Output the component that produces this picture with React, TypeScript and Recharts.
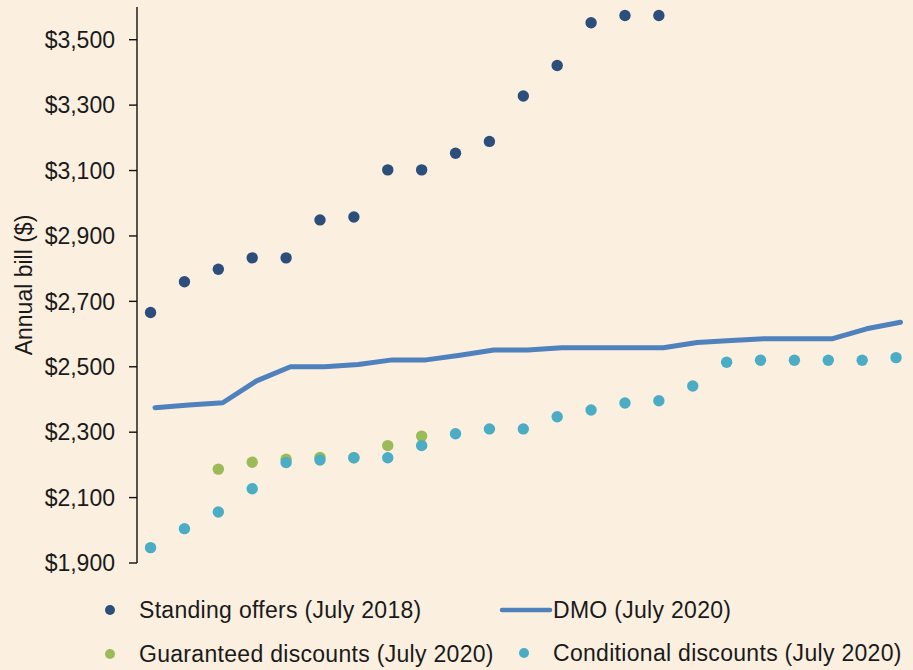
import React from "react";
import { ComposedChart, Line, XAxis, YAxis } from "recharts";

const offerRank = [1, 2, 3, 4, 5, 6, 7, 8, 9, 10, 11, 12, 13, 14, 15, 16, 17, 18, 19, 20, 21, 22, 23];
const standingOffers2018 = [2666, 2760, 2798, 2833, 2833, 2949, 2958, 3102, 3102, 3153, 3189, 3328, 3421, 3552, 3574, 3574, null, null, null, null, null, null, null];
const dmo2020 = [2375, 2383, 2390, 2457, 2500, 2500, 2507, 2521, 2521, 2535, 2551, 2551, 2558, 2558, 2558, 2558, 2574, 2580, 2586, 2586, 2586, 2616, 2636];
const guaranteed2020 = [null, null, 2187, 2208, 2217, 2223, 2222, 2259, 2288, null, null, null, null, null, null, null, null, null, null, null, null, null, null];
const conditional2020 = [1947, 2005, 2056, 2127, 2207, 2215, 2222, 2222, 2259, 2295, 2310, 2310, 2347, 2368, 2389, 2396, 2441, 2514, 2520, 2520, 2520, 2520, 2528];
const yTicks = [1900, 2100, 2300, 2500, 2700, 2900, 3100, 3300, 3500];

const seriesNames = {
  standing: "Standing offers (July 2018)",
  dmo: "DMO (July 2020)",
  guaranteed: "Guaranteed discounts (July 2020)",
  conditional: "Conditional discounts (July 2020)",
};

const COLORS = {
  standing: "#2B4E7B",
  dmo: "#4F81BD",
  guaranteed: "#9BBB59",
  conditional: "#4BACC6",
};

const BG = "#FBEFE0";
const FONT = "'Liberation Sans', Arial, Helvetica, sans-serif";

const data = offerRank.map((x, i) => ({
  x,
  standing: standingOffers2018[i],
  dmo: dmo2020[i],
  guaranteed: guaranteed2020[i],
  conditional: conditional2020[i],
}));

const fmt = (v: number) => "$" + v.toLocaleString("en-US");

const AxisLabel = (props: any) => {
  const vb = props.viewBox || {};
  const cy = (vb.y ?? 7) + (vb.height ?? 556) / 2;
  const x = 32;
  return (
    <text
      x={x}
      y={cy}
      transform={`rotate(-90, ${x}, ${cy})`}
      textAnchor="middle"
      fontSize={23}
      fontFamily={FONT}
      fill="#1a1a1a"
    >
      Annual bill ($)
    </text>
  );
};

const legendText: React.CSSProperties = {
  position: "absolute",
  fontSize: 23,
  fontFamily: FONT,
  color: "#1a1a1a",
  letterSpacing: 0.3,
  lineHeight: "26px",
  whiteSpace: "nowrap",
};

const DotMark = ({ color, left, top }: { color: string; left: number; top: number }) => (
  <svg style={{ position: "absolute", left: left - 6, top: top - 6 }} width={12} height={12}>
    <circle cx={6} cy={6} r={5} fill={color} />
  </svg>
);

export default function App() {
  return (
    <div style={{ position: "absolute", left: 0, top: 0, width: 913, height: 670, background: BG, overflow: "hidden" }}>
      <ComposedChart
        width={913}
        height={670}
        data={data}
        margin={{ top: 7, right: 0, bottom: 107, left: 0 }}
      >
        <XAxis dataKey="x" type="number" domain={[0.6, 23.5]} hide />
        <XAxis xAxisId="dmo" dataKey="x" type="number" domain={[0.47, 23.37]} hide />
        <YAxis
          width={137}
          domain={[1900, 3600]}
          ticks={yTicks}
          allowDataOverflow
          tickFormatter={fmt}
          tickSize={8}
          tickMargin={14}
          axisLine={{ stroke: "#111", strokeWidth: 1.4 }}
          tickLine={{ stroke: "#111", strokeWidth: 1.4 }}
          tick={{ fontSize: 23, fontFamily: FONT, fill: "#1a1a1a" }}
          label={<AxisLabel />}
        />
        <Line
          dataKey="standing"
          name={seriesNames.standing}
          stroke="none"
          isAnimationActive={false}
          dot={{ r: 5.7, fill: COLORS.standing, stroke: "none", strokeWidth: 0 }}
          activeDot={false}
        />
        <Line
          xAxisId="dmo"
          dataKey="dmo"
          name={seriesNames.dmo}
          type="linear"
          stroke={COLORS.dmo}
          strokeWidth={5}
          strokeLinecap="round"
          strokeLinejoin="round"
          isAnimationActive={false}
          dot={false}
          activeDot={false}
        />
        <Line
          dataKey="guaranteed"
          name={seriesNames.guaranteed}
          stroke="none"
          isAnimationActive={false}
          dot={{ r: 5.7, fill: COLORS.guaranteed, stroke: "none", strokeWidth: 0 }}
          activeDot={false}
        />
        <Line
          dataKey="conditional"
          name={seriesNames.conditional}
          stroke="none"
          isAnimationActive={false}
          dot={{ r: 5.7, fill: COLORS.conditional, stroke: "none", strokeWidth: 0 }}
          activeDot={false}
        />
      </ComposedChart>

      <DotMark color={COLORS.standing} left={110} top={610} />
      <div style={{ ...legendText, left: 139, top: 597 }}>{seriesNames.standing}</div>
      <svg style={{ position: "absolute", left: 498, top: 605 }} width={56} height={10}>
        <line x1={4} y1={5} x2={52} y2={5} stroke={COLORS.dmo} strokeWidth={4.5} strokeLinecap="round" />
      </svg>
      <div style={{ ...legendText, left: 553, top: 597 }}>{seriesNames.dmo}</div>

      <DotMark color={COLORS.guaranteed} left={110} top={654} />
      <div style={{ ...legendText, left: 139, top: 641 }}>{seriesNames.guaranteed}</div>
      <DotMark color={COLORS.conditional} left={524} top={653} />
      <div style={{ ...legendText, left: 553, top: 640 }}>{seriesNames.conditional}</div>
    </div>
  );
}
